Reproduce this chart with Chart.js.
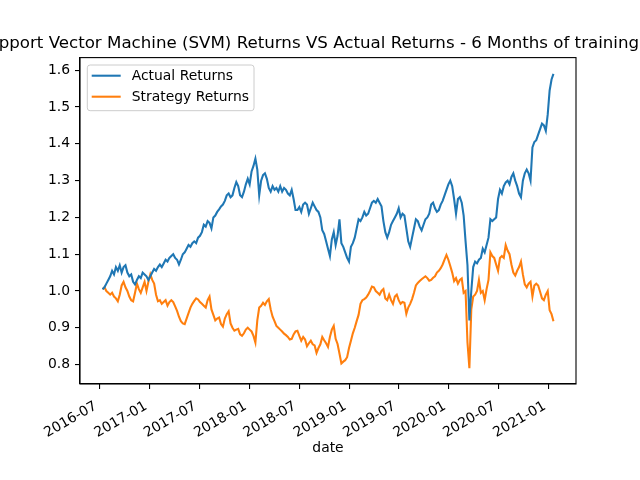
<!DOCTYPE html>
<html><head><meta charset="utf-8">
<script src="https://cdn.jsdelivr.net/npm/chart.js@4.4.1/dist/chart.umd.min.js"></script>
<style>html,body{margin:0;padding:0;background:#fff}canvas{display:block}</style>
</head><body>
<canvas id="c" width="640" height="480"></canvas>
<script>
const titleText = "Support Vector Machine (SVM) Returns VS Actual Returns - 6 Months of training";
const xLabel = "date";
const seriesNames = ["Actual Returns", "Strategy Returns"];
const startDate = "2016-07-11";
const stepDays = 7;
const xTickLabels = ["2016-07","2017-01","2017-07","2018-01","2018-07","2019-01","2019-07","2020-01","2020-07","2021-01"];
const yTickValues = [0.8,0.9,1.0,1.1,1.2,1.3,1.4,1.5,1.6];

const actualReturns = [
1.005,1.01,1.02,1.03,1.04,1.055,1.045,1.065,1.055,1.07,
1.05,1.065,1.07,1.05,1.04,1.045,1.025,1.018,1.03,1.04,
1.035,1.05,1.045,1.04,1.03,1.04,1.05,1.06,1.055,1.065,
1.072,1.065,1.075,1.085,1.08,1.09,1.095,1.10,1.09,1.085,
1.072,1.085,1.10,1.105,1.115,1.125,1.12,1.13,1.135,1.13,
1.145,1.15,1.16,1.18,1.175,1.19,1.185,1.17,1.20,1.205,
1.215,1.222,1.23,1.235,1.245,1.26,1.265,1.255,1.26,1.28,
1.296,1.285,1.26,1.255,1.27,1.29,1.305,1.29,1.325,1.34,
1.36,1.33,1.26,1.30,1.315,1.32,1.305,1.28,1.27,1.285,
1.275,1.28,1.27,1.285,1.27,1.28,1.275,1.265,1.26,1.275,
1.25,1.22,1.22,1.228,1.215,1.235,1.24,1.235,1.21,1.225,
1.24,1.23,1.22,1.215,1.20,1.165,1.155,1.135,1.115,1.095,
1.14,1.16,1.125,1.15,1.195,1.13,1.12,1.105,1.09,1.08,
1.12,1.13,1.145,1.17,1.195,1.19,1.20,1.215,1.205,1.21,
1.225,1.24,1.245,1.24,1.25,1.24,1.23,1.19,1.16,1.145,
1.16,1.18,1.19,1.20,1.21,1.225,1.20,1.21,1.205,1.17,
1.135,1.12,1.145,1.17,1.195,1.19,1.175,1.165,1.18,1.195,
1.20,1.21,1.235,1.24,1.225,1.215,1.22,1.235,1.245,1.26,
1.275,1.29,1.30,1.285,1.25,1.21,1.25,1.255,1.24,1.205,
1.135,1.07,0.92,1.00,1.065,1.08,1.075,1.085,1.09,1.115,
1.105,1.125,1.145,1.195,1.19,1.195,1.20,1.25,1.275,1.265,
1.285,1.295,1.30,1.29,1.31,1.32,1.30,1.285,1.265,1.255,
1.30,1.32,1.33,1.32,1.30,1.39,1.405,1.41,1.425,1.44,
1.455,1.45,1.435,1.48,1.545,1.575,1.59
];

const strategyReturns = [
1.005,1.01,1.0,0.995,0.99,0.995,0.985,0.98,0.972,0.99,
1.015,1.025,1.01,1.0,0.985,0.975,0.972,0.995,1.02,1.005,
0.995,1.01,1.025,1.0,1.025,1.045,1.03,1.02,0.99,0.972,
0.975,0.965,0.97,0.975,0.96,0.97,0.975,0.97,0.958,0.946,
0.93,0.918,0.912,0.91,0.925,0.94,0.955,0.965,0.973,0.98,
0.977,0.97,0.965,0.96,0.955,0.975,0.985,0.95,0.935,0.92,
0.925,0.928,0.91,0.903,0.925,0.937,0.945,0.912,0.90,0.892,
0.895,0.897,0.882,0.878,0.885,0.895,0.90,0.895,0.89,0.878,
0.86,0.92,0.955,0.96,0.968,0.962,0.972,0.978,0.95,0.93,
0.918,0.905,0.90,0.895,0.89,0.884,0.88,0.875,0.868,0.87,
0.882,0.89,0.892,0.878,0.865,0.875,0.868,0.85,0.858,0.865,
0.855,0.852,0.832,0.845,0.855,0.875,0.866,0.858,0.848,0.875,
0.895,0.905,0.87,0.856,0.83,0.803,0.808,0.812,0.82,0.845,
0.865,0.885,0.90,0.918,0.935,0.965,0.975,0.978,0.982,0.99,
1.0,1.012,1.01,1.0,0.995,0.99,1.0,1.005,0.98,0.975,
0.99,0.975,0.965,0.985,0.99,0.975,0.965,0.97,0.968,0.938,
0.955,0.965,0.978,0.995,1.015,1.022,1.027,1.032,1.036,1.04,
1.035,1.028,1.03,1.036,1.04,1.05,1.055,1.062,1.072,1.085,
1.098,1.085,1.068,1.05,1.027,1.035,1.02,1.03,1.034,0.995,
1.0,0.86,0.79,0.95,0.985,0.99,1.0,1.03,0.995,1.0,
0.975,1.005,1.03,1.105,1.095,1.09,1.072,1.055,1.09,1.095,
1.09,1.125,1.11,1.10,1.072,1.05,1.042,1.055,1.065,1.08,
1.045,1.018,1.01,1.02,1.025,0.985,1.015,1.02,1.015,0.998,
0.98,0.975,0.99,1.0,0.948,0.937,0.918
];

const DAY = 86400000;
function dayNum(s){const p=s.split('-').map(Number);return Date.UTC(p[0],p[1]-1,p[2]||1)/DAY;}
const start = dayNum(startDate);
const xs = actualReturns.map((_,i)=>start+i*stepDays);
const ptsA = actualReturns.map((v,i)=>({x:xs[i],y:v}));
const ptsS = strategyReturns.map((v,i)=>({x:xs[i],y:v}));
const xFirst = xs[0], xLast = xs[xs.length-1], xMarg = (xLast-xFirst)*0.05;
const yMin = 0.7472, yMax = 1.6344;
const colors = ["#1f77b4","#ff7f0e"];
const FONT = '"DejaVu Sans", sans-serif';

const deco = {
  id:'deco',
  afterDraw(chart){
    const ctx = chart.ctx, a = chart.chartArea;
    ctx.save();
    ctx.strokeStyle = '#000'; ctx.lineWidth = 1.1;
    ctx.strokeRect(a.left, a.top, a.right-a.left, a.bottom-a.top);
    ctx.fillStyle = '#000';
    ctx.font = '16.67px ' + FONT;
    ctx.textAlign = 'left'; ctx.textBaseline = 'alphabetic';
    ctx.fillText(titleText, -22.5, 48);
    ctx.textAlign = 'center';
    ctx.font = '13.9px ' + FONT;
    ctx.fillText(xLabel, (a.left+a.right)/2, 451.5);
    // legend
    const bx = a.left+7.3, by = a.top+7.4, bw = 166.7, bh = 45.7, r = 2.8;
    ctx.beginPath();
    ctx.moveTo(bx+r,by); ctx.lineTo(bx+bw-r,by); ctx.arcTo(bx+bw,by,bx+bw,by+r,r);
    ctx.lineTo(bx+bw,by+bh-r); ctx.arcTo(bx+bw,by+bh,bx+bw-r,by+bh,r);
    ctx.lineTo(bx+r,by+bh); ctx.arcTo(bx,by+bh,bx,by+bh-r,r);
    ctx.lineTo(bx,by+r); ctx.arcTo(bx,by,bx+r,by,r); ctx.closePath();
    ctx.fillStyle = 'rgba(255,255,255,0.8)'; ctx.fill();
    ctx.strokeStyle = '#cccccc'; ctx.lineWidth = 1; ctx.stroke();
    const rows = [by+10.7, by+31.7];
    ctx.textAlign = 'left'; ctx.textBaseline = 'middle';
    seriesNames.forEach((n,i)=>{
      ctx.strokeStyle = colors[i]; ctx.lineWidth = 2.08;
      ctx.beginPath(); ctx.moveTo(bx+4.4, rows[i]); ctx.lineTo(bx+33.4, rows[i]); ctx.stroke();
      ctx.fillStyle = '#000';
      ctx.fillText(n, bx+44.4, rows[i]+0.5);
    });
    ctx.restore();
  }
};

new Chart(document.getElementById('c'), {
  type:'line',
  data:{datasets:[
    {label:seriesNames[0], data:ptsA, borderColor:colors[0], borderWidth:2.08, pointRadius:0, tension:0, fill:false},
    {label:seriesNames[1], data:ptsS, borderColor:colors[1], borderWidth:2.08, pointRadius:0, tension:0, fill:false}
  ]},
  options:{
    responsive:false, animation:false, devicePixelRatio:1,
    layout:{padding:{left:0,right:64,top:57.6,bottom:0}},
    plugins:{legend:{display:false}, title:{display:false}, tooltip:{enabled:false}},
    scales:{
      x:{type:'linear', min:xFirst-xMarg, max:xLast+xMarg,
        afterBuildTicks:s=>{s.ticks = xTickLabels.map(l=>({value:dayNum(l+'-01')}));},
        afterFit:s=>{s.height=96;},
        ticks:{callback:(v,i)=>xTickLabels[i], minRotation:30, maxRotation:30, autoSkip:false, color:'#000', font:{family:FONT,size:13.9}, padding:9, labelOffset:-4},
        grid:{display:true, drawOnChartArea:false, drawTicks:true, tickLength:5, color:'#000', lineWidth:1.1},
        border:{display:true, color:'#000', width:1.1}
      },
      y:{type:'linear', min:yMin, max:yMax,
        afterBuildTicks:s=>{s.ticks = yTickValues.map(v=>({value:v}));},
        afterFit:s=>{s.width=80;},
        ticks:{callback:v=>Number(v).toFixed(1), color:'#000', font:{family:FONT,size:13.9}, padding:5},
        grid:{display:true, drawOnChartArea:false, drawTicks:true, tickLength:5, color:'#000', lineWidth:1.1},
        border:{display:true, color:'#000', width:1.1}
      }
    }
  },
  plugins:[deco]
});
</script>
</body></html>
